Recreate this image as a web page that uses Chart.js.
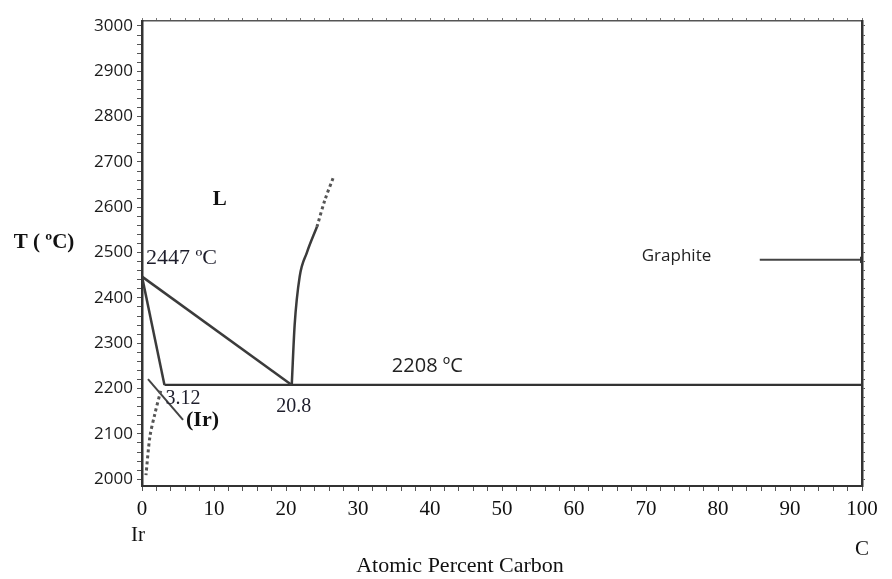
<!DOCTYPE html>
<html>
<head>
<meta charset="utf-8">
<script src="https://cdn.jsdelivr.net/npm/chart.js@4/dist/chart.umd.min.js"></script>
<style>
  html, body { margin: 0; padding: 0; background: #ffffff; }
  canvas { display: block; }
</style>
</head>
<body>
<canvas id="diagram" width="892" height="579"></canvas>
<script>
// Ir–C binary phase diagram: temperature (ºC) against atomic percent carbon.

// Axis tick labels
const xTickValues = [0, 10, 20, 30, 40, 50, 60, 70, 80, 90, 100];
const yTickValues = [2000, 2100, 2200, 2300, 2400, 2500, 2600, 2700, 2800, 2900, 3000];

// Invariant points
const irMelting = { x: 0, y: 2447 };        // melting point of Ir
const irSolubility = { x: 3.12, y: 2208 };  // max. solubility of C in (Ir)
const eutecticPoint = { x: 20.8, y: 2208 }; // L -> (Ir) + graphite

// Phase boundaries (x = at.% C, y = ºC)
const liquidusIrSide = [irMelting, eutecticPoint];
const solidusIr = [irMelting, irSolubility];
const eutecticIsotherm = [irSolubility, { x: 100, y: 2208 }];
const liquidusCarbonSide = [
  { x: 20.8, y: 2208 }, { x: 21.2, y: 2340 }, { x: 21.9, y: 2447 },
  { x: 22.9, y: 2500 }, { x: 24.3, y: 2557 }
];
const liquidusCarbonSideEstimated = [
  { x: 24.3, y: 2557 }, { x: 25.4, y: 2616 }, { x: 26.6, y: 2667 }
];
const solvusIr = [
  { x: 2.6, y: 2195 }, { x: 1.8, y: 2145 }, { x: 1.1, y: 2094 }, { x: 0.55, y: 2009 }
];
const irFieldPointer = [{ x: 0.83, y: 2221 }, { x: 5.7, y: 2131 }];
const graphitePointer = [{ x: 85.8, y: 2484 }, { x: 100, y: 2484 }];

// Field names and axis captions
const liquidLabel = 'L';
const irPhaseLabel = '(Ir)';
const graphiteLabel = 'Graphite';
const yAxisTitle = 'T ( ºC)';
const xAxisTitle = 'Atomic Percent Carbon';
const leftEndLabel = 'Ir';
const rightEndLabel = 'C';

const SERIF = '"Liberation Serif", "Times New Roman", serif';
const SANS = '"Open Sans", "Liberation Sans", sans-serif';
const INK = '#1d1d2b';

function everyStep(min, max, step) {
  const out = [];
  for (let v = min; v <= max + 1e-9; v += step) out.push({ value: Math.round(v * 100) / 100 });
  return out;
}

const solid = (data, width = 2.5, color = '#3b3b3b') => ({
  data, showLine: true, borderColor: color, borderWidth: width,
  pointRadius: 0, fill: false, tension: 0
});
const dotted = (data) => ({
  data, showLine: true, borderColor: '#555555', borderWidth: 3,
  borderDash: [3, 3], pointRadius: 0, fill: false, tension: 0.3
});

const textLayer = {
  id: 'diagramText',
  afterDatasetsDraw(chart) {
    const { ctx, scales, chartArea } = chart;
    const px = v => scales.x.getPixelForValue(v);
    const py = v => scales.y.getPixelForValue(v);
    const put = (txt, x, y, font, align = 'left', color = INK) => {
      ctx.font = font; ctx.textAlign = align; ctx.textBaseline = 'middle';
      ctx.fillStyle = color; ctx.fillText(txt, x, y);
    };
    ctx.save();
    // values at the invariant points
    put(`${irMelting.y} ºC`, px(irMelting.x) + 4, py(irMelting.y) - 18, `22px ${SERIF}`);
    put(`${irSolubility.x}`, px(irSolubility.x) + 1, py(irSolubility.y) + 14, `20px ${SERIF}`);
    put(`${eutecticPoint.x}`, px(eutecticPoint.x) + 2, py(eutecticPoint.y) + 22, `20px ${SERIF}`, 'center');
    put(`${eutecticPoint.y} ºC`, px(34.7), py(eutecticPoint.y) - 19, `20px ${SANS}`, 'left', '#222');
    // phase fields
    put(liquidLabel, px(10.8), py(2616), `bold 21px ${SERIF}`, 'center', '#111');
    put(irPhaseLabel, px(irFieldPointer[1].x) + 3, py(irFieldPointer[1].y), `bold 22px ${SERIF}`, 'left', '#111');
    put(graphiteLabel, px(graphitePointer[0].x) - 118, py(graphitePointer[0].y) - 4, `17px ${SANS}`, 'left', '#222');
    // axis captions
    put(yAxisTitle, chartArea.left - 98, 243, `bold 21px ${SERIF}`, 'center', '#111');
    put(leftEndLabel, px(0) - 4, 535, `21px ${SERIF}`, 'center', '#111');
    put(rightEndLabel, px(100), 549, `21px ${SERIF}`, 'center', '#111');
    put(xAxisTitle, 460, 566, `22px ${SERIF}`, 'center', '#111');
    ctx.restore();
  }
};

new Chart(document.getElementById('diagram'), {
  type: 'scatter',
  data: {
    datasets: [
      solid(liquidusIrSide),
      solid(solidusIr),
      solid(eutecticIsotherm, 2.2, '#333333'),
      Object.assign(solid(liquidusCarbonSide), { cubicInterpolationMode: 'monotone' }),
      dotted(liquidusCarbonSideEstimated),
      dotted(solvusIr),
      solid(irFieldPointer, 2, '#444444'),
      Object.assign(solid(graphitePointer, 2, '#444444'), {
        pointRadius: [0, 4], pointStyle: 'triangle', rotation: 90,
        pointBackgroundColor: '#333333', pointBorderWidth: 0
      })
    ]
  },
  options: {
    responsive: false,
    animation: false,
    events: [],
    layout: { padding: { left: 0, right: 24, top: 15, bottom: 0 } },
    plugins: { legend: { display: false }, tooltip: { enabled: false } },
    scales: {
      x: {
        type: 'linear', position: 'bottom', min: 0, max: 100,
        afterBuildTicks: s => { s.ticks = everyStep(0, 100, 2); },
        afterFit: s => { s.height = 93; },
        ticks: {
          autoSkip: false, maxRotation: 0, padding: 6, color: '#111',
          font: { family: SERIF, size: 21 },
          callback: v => (xTickValues.includes(v) ? String(v) : '')
        },
        grid: { drawOnChartArea: false, drawTicks: true, tickLength: 5, color: '#555', lineWidth: 1 },
        border: { display: true, color: '#333', width: 2 }
      },
      x2: {
        type: 'linear', position: 'top', min: 0, max: 100,
        afterBuildTicks: s => { s.ticks = everyStep(0, 100, 2); },
        afterFit: s => { s.height = 6; },
        ticks: { display: false },
        grid: { drawOnChartArea: false, drawTicks: true, tickLength: 3, color: '#777', lineWidth: 1 },
        border: { display: true, color: '#555', width: 1.5 }
      },
      y: {
        type: 'linear', position: 'left', min: 1985, max: 3011,
        afterBuildTicks: s => { s.ticks = everyStep(2000, 3000, 20); },
        afterFit: s => { s.width = 142; },
        ticks: {
          autoSkip: false, padding: 4, color: '#1a1a1a',
          font: { family: SANS, size: 17 },
          callback: v => (yTickValues.includes(v) ? String(v) : '')
        },
        grid: { drawOnChartArea: false, drawTicks: true, tickLength: 5, color: '#555', lineWidth: 1 },
        border: { display: true, color: '#333', width: 2.5 }
      },
      y2: {
        type: 'linear', position: 'right', min: 1985, max: 3011,
        afterBuildTicks: s => { s.ticks = everyStep(2000, 3000, 20); },
        afterFit: s => { s.width = 6; },
        ticks: { display: false },
        grid: { drawOnChartArea: false, drawTicks: true, tickLength: 3, color: '#555', lineWidth: 1 },
        border: { display: true, color: '#333', width: 2.5 }
      }
    }
  },
  plugins: [textLayer]
});
</script>
</body>
</html>
